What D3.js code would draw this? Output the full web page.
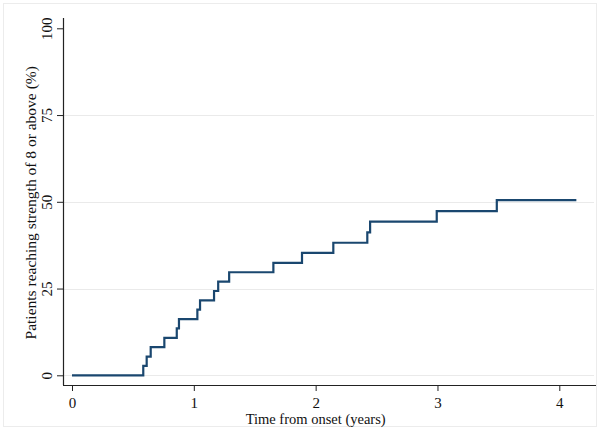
<!DOCTYPE html>
<html>
<head>
<meta charset="utf-8">
<script src="https://cdn.jsdelivr.net/npm/d3@7"></script>
<style>
  html, body { margin: 0; padding: 0; background: #fff; }
  svg { display: block; }
  text { font-family: "Liberation Serif", "DejaVu Serif", serif; fill: #111; }
</style>
</head>
<body>
<svg id="chart" width="600" height="430"></svg>
<script>
// Kaplan-Meier style failure curve (time in years, % reaching strength >= 8)
const stepTimes = [0, 0.585, 0.613, 0.646, 0.758, 0.86, 0.878, 1.029, 1.051, 1.166, 1.2, 1.29, 1.653, 1.888, 2.145, 2.424, 2.447, 2.994, 3.487, 4.14];
const stepPercents = [0, 2.7, 5.4, 8.1, 10.8, 13.5, 16.2, 18.9, 21.6, 24.3, 27.0, 29.7, 32.4, 35.3, 38.2, 41.2, 44.3, 47.3, 50.5, 50.5];
const xTicks = [0, 1, 2, 3, 4];
const yTicks = [0, 25, 50, 75, 100];
const yGridTicks = [0, 25, 50, 75];
const xTitle = "Time from onset (years)";
const yTitle = "Patients reaching strength of 8 or above (%)";

const svg = d3.select("#chart");

// outer frame
svg.append("rect").attr("x", 3.5).attr("y", 3.5).attr("width", 593).attr("height", 423)
  .attr("fill", "#fff").attr("stroke", "#ececec");

const x = d3.scaleLinear().domain([0, 4]).range([72, 559.3]);
const y = d3.scaleLinear().domain([0, 100]).range([375.3, 28.3]);

const axisX0 = 63, axisY0 = 385, plotRight = 596;

// gridlines
svg.append("g").selectAll("line").data(yGridTicks).join("line")
  .attr("x1", axisX0).attr("x2", plotRight - 2)
  .attr("y1", d => Math.round(y(d)) + 0.5).attr("y2", d => Math.round(y(d)) + 0.5)
  .attr("stroke", "#eaeaea").attr("stroke-width", 1);

// curve
const data = stepTimes.map((t, i) => ({ t, p: stepPercents[i] }));
const line = d3.line().x(d => x(d.t)).y(d => y(d.p)).curve(d3.curveStepAfter);
svg.append("path").datum(data).attr("d", line)
  .attr("fill", "none").attr("stroke", "#1a476f").attr("stroke-width", 2.2)
  .attr("stroke-linejoin", "miter");

// X axis
const gx = svg.append("g").attr("transform", `translate(0,${axisY0})`);
gx.call(d3.axisBottom(x).tickValues(xTicks).tickFormat(d3.format("d")).tickSize(6).tickPadding(6));
gx.select(".domain").remove();
gx.append("line").attr("x1", axisX0).attr("x2", plotRight).attr("y1", 0.5).attr("y2", 0.5)
  .attr("stroke", "#222").attr("stroke-width", 1.2);
gx.selectAll(".tick line").attr("stroke", "#222");
gx.selectAll(".tick text").attr("font-size", 15).attr("font-family", "Liberation Serif").attr("fill", "#111");

// Y axis
const gy = svg.append("g").attr("transform", `translate(${axisX0},0)`);
gy.call(d3.axisLeft(y).tickValues(yTicks).tickFormat(d3.format("d")).tickSize(6).tickPadding(4));
gy.select(".domain").remove();
gy.append("line").attr("x1", 0.5).attr("x2", 0.5).attr("y1", 18).attr("y2", axisY0)
  .attr("stroke", "#222").attr("stroke-width", 1.2);
gy.selectAll(".tick line").attr("stroke", "#222");
gy.selectAll(".tick text")
  .attr("font-size", 15).attr("font-family", "Liberation Serif").attr("fill", "#111")
  .attr("x", null).attr("dy", null)
  .attr("text-anchor", "middle")
  .attr("transform", "translate(-11.5,0) rotate(-90)");

// titles
svg.append("text").attr("x", (x(0) + x(4)) / 2).attr("y", 424)
  .attr("text-anchor", "middle").attr("font-size", 14.5).text(xTitle);
svg.append("text").attr("transform", `translate(36,${(y(0) + y(100)) / 2 + 1}) rotate(-90)`)
  .attr("text-anchor", "middle").attr("font-size", 15.5).text(yTitle);
</script>
</body>
</html>
